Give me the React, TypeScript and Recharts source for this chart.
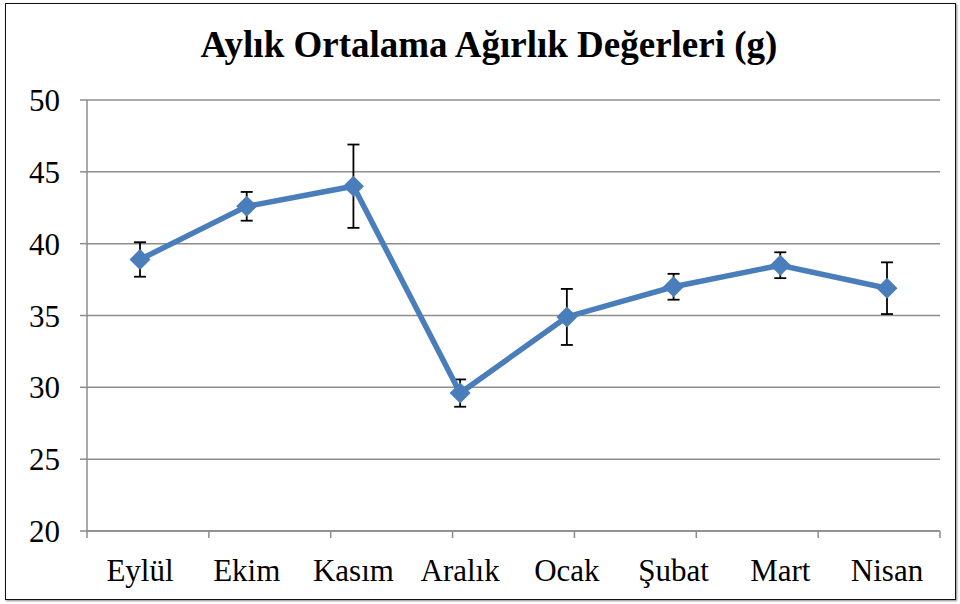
import { LineChart, Line, XAxis, YAxis, CartesianGrid, ErrorBar } from "recharts";

const months = ["Eylül", "Ekim", "Kasım", "Aralık", "Ocak", "Şubat", "Mart", "Nisan"];
const meanWeights = [38.9, 42.6, 44.0, 29.6, 34.9, 37.0, 38.5, 36.9];
const errors = [1.2, 1.0, 2.9, 0.95, 1.95, 0.9, 0.9, 1.8];
const yTicks = [20, 25, 30, 35, 40, 45, 50];
const boundaryTicks = [0, 1, 2, 3, 4, 5, 6, 7, 8];

const data = months.map((m, i) => ({ month: m, weight: meanWeights[i], err: errors[i] }));

const font = "'Liberation Serif', Tinos, 'Times New Roman', Times, serif";
const gray = "#8c8c8c";
const blue = "#4a7ebb";

function Diamond(props: any) {
  const { cx, cy } = props;
  if (cx == null || cy == null) return null;
  const r = 10.5;
  return (
    <path
      d={`M${cx},${cy - r}L${cx + r},${cy}L${cx},${cy + r}L${cx - r},${cy}Z`}
      fill={blue}
    />
  );
}

export default function App() {
  return (
    <div style={{ position: "relative", width: 960, height: 604, background: "#fff" }}>
      <style>{`body{margin:0}`}</style>
      <div
        style={{
          position: "absolute",
          left: 5,
          top: 3,
          width: 949,
          height: 595,
          border: "1.5px solid #111",
          boxShadow: "1px 1px 2px #888",
        }}
      />
      <div
        style={{
          position: "absolute",
          left: 0,
          top: 23,
          width: 978,
          textAlign: "center",
          fontFamily: font,
          fontWeight: "bold",
          fontSize: 37,
          color: "#000",
        }}
      >
        Aylık Ortalama Ağırlık Değerleri (g)
      </div>
      <div style={{ position: "absolute", left: 0, top: 0 }}>
        <LineChart
          width={960}
          height={604}
          data={data}
          margin={{ top: 100, right: 20, bottom: 15, left: 27 }}
        >
          <CartesianGrid
            xAxisId="cat"
            vertical={false}
            stroke={gray}
            strokeWidth={1.5}
          />
          <XAxis
            xAxisId="cat"
            dataKey="month"
            height={50}
            padding={{ left: 53, right: 53 }}
            axisLine={false}
            tickLine={false}
            tickSize={0}
            tickMargin={20}
            interval={0}
            tick={{ fill: "#000", fontSize: 31, fontFamily: font }}
          />
          <XAxis
            xAxisId="a0"
            type="number"
            domain={[0, 8]}
            allowDataOverflow
            ticks={boundaryTicks}
            height={8}
            tickSize={7}
            stroke={gray}
            strokeWidth={1.5}
            tickFormatter={() => ""}
          />
          <YAxis
            domain={[20, 50]}
            ticks={yTicks}
            width={60}
            tickSize={7}
            tickMargin={20}
            stroke={gray}
            strokeWidth={1.5}
            tick={{ fill: "#000", fontSize: 31, fontFamily: font }}
          />
          <Line
            xAxisId="cat"
            dataKey="weight"
            stroke={blue}
            strokeWidth={5.5}
            dot={<Diamond />}
            activeDot={false}
            isAnimationActive={false}
          >
            <ErrorBar dataKey="err" width={6} stroke="#000" strokeWidth={1.8} />
          </Line>
        </LineChart>
      </div>
    </div>
  );
}
